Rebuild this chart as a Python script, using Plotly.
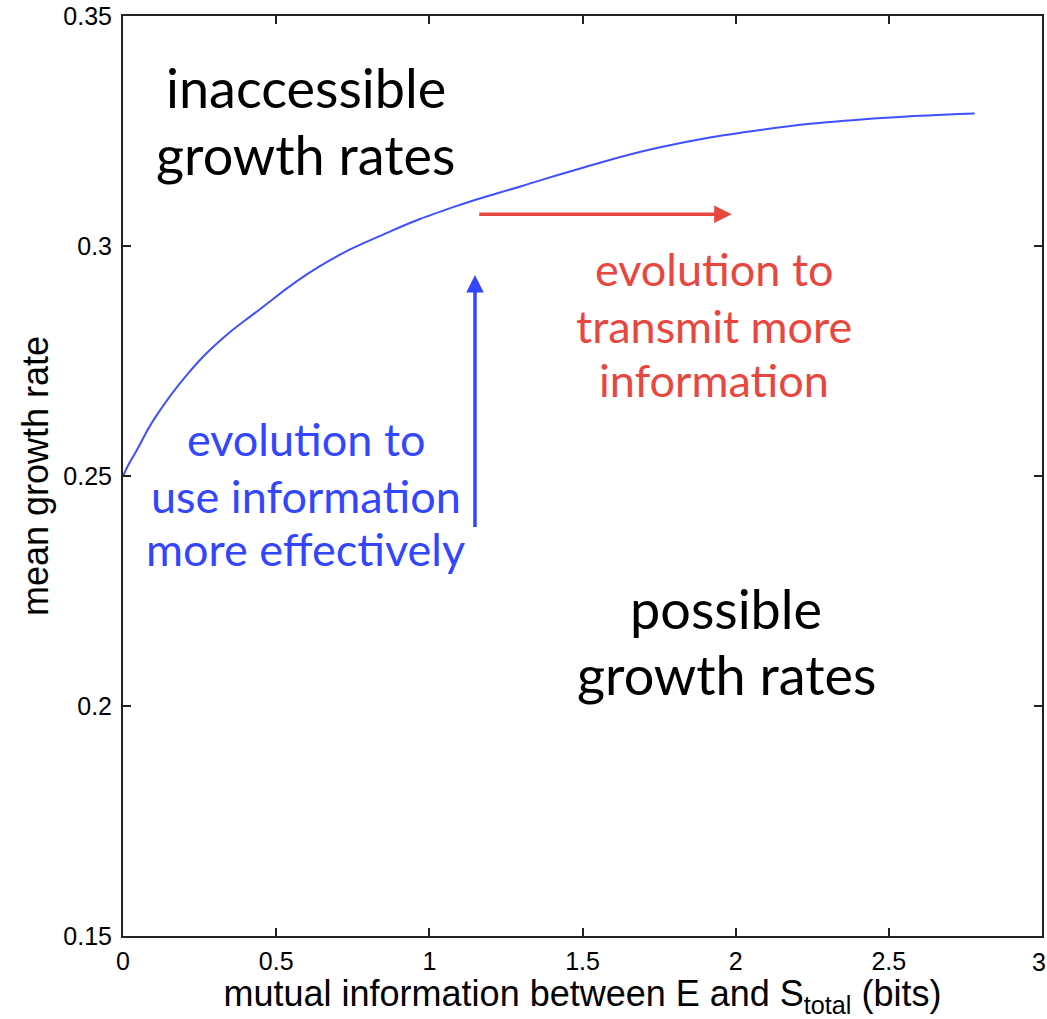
import plotly.graph_objects as go

# Frontier of achievable mean growth rate vs. mutual information
info_bits = [0.0, 0.02, 0.045, 0.10, 0.21, 0.32, 0.43, 0.64, 0.86, 1.08, 1.30, 1.49, 1.75, 2.08, 2.41, 2.78]
growth_rate = [0.250, 0.2527, 0.2556, 0.2622, 0.2721, 0.2796, 0.2854, 0.2955, 0.3028, 0.3085, 0.3130,
               0.3168, 0.3214, 0.3252, 0.3275, 0.3288]

# Axis ticks
x_ticks = [0, 0.5, 1, 1.5, 2, 2.5, 3]
x_tick_labels = ["0", "0.5", "1", "1.5", "2", "2.5", "3"]
y_ticks = [0.15, 0.2, 0.25, 0.3, 0.35]
y_tick_labels = ["0.15", "0.2", "0.25", "0.3", "0.35"]

# Arrows: (x_start, y_start, x_end, y_end)
red_arrow = (1.158, 0.3069, 1.987, 0.3069)
blue_arrow = (1.149, 0.2386, 1.149, 0.2937)

# Region labels: lines, x centre, y centre of each line
region_top_lines = ["inaccessible", "growth rates"]
region_top_x = 0.597
region_top_y = [0.3345, 0.3199]

region_bottom_lines = ["possible", "growth rates"]
region_bottom_x = 1.969
region_bottom_y = [0.2213, 0.2069]

red_lines = ["evolution to", "transmit more", "information"]
red_x = 1.93
red_y = [0.2950, 0.2826, 0.2709]

blue_lines = ["evolution to", "use information", "more effectively"]
blue_x = 0.597
blue_y = [0.2580, 0.2456, 0.2341]

BLUE = "#3346ff"
RED = "#e8473f"
LABEL_FONT = "Lato"
AXIS_FONT = "Liberation Sans"

fig = go.Figure()
fig.add_trace(go.Scatter(
    x=info_bits, y=growth_rate, mode="lines",
    line=dict(color="#3f50ff", width=2, shape="spline", smoothing=1.3),
    hoverinfo="skip", showlegend=False,
))

annotations = []


def add_lines(lines, xc, ys, color, size):
    for txt, yc in zip(lines, ys):
        annotations.append(dict(
            x=xc, y=yc, xref="x", yref="y", text=txt, showarrow=False,
            xanchor="center", yanchor="middle",
            font=dict(family=LABEL_FONT, size=size, color=color),
        ))


add_lines(region_top_lines, region_top_x, region_top_y, "black", 54)
add_lines(region_bottom_lines, region_bottom_x, region_bottom_y, "black", 54)
add_lines(red_lines, red_x, red_y, RED, 45)
add_lines(blue_lines, blue_x, blue_y, BLUE, 45)

for (x0, y0, x1, y1), color in [(red_arrow, RED), (blue_arrow, BLUE)]:
    annotations.append(dict(
        x=x1, y=y1, ax=x0, ay=y0, xref="x", yref="y", axref="x", ayref="y",
        text="", showarrow=True, arrowhead=2, arrowsize=1.0, arrowwidth=3.5,
        arrowcolor=color,
    ))

# The last x tick label sits on the figure's right edge; draw it explicitly
annotations.append(dict(
    x=x_ticks[-1], y=0, xref="x", yref="paper", yshift=-10, xshift=-3,
    text=x_tick_labels[-1], showarrow=False, xanchor="center", yanchor="top",
    font=dict(family=AXIS_FONT, size=25, color="black"),
))

fig.update_layout(
    width=1047, height=1019,
    margin=dict(l=123, r=5, t=16, b=83, autoexpand=False),
    paper_bgcolor="white", plot_bgcolor="white",
    annotations=annotations,
    xaxis=dict(
        range=[0, 3], tickvals=x_ticks[:-1], ticktext=x_tick_labels[:-1],
        ticks="inside", ticklen=8, tickwidth=1.5, tickcolor="#222",
        showline=True, linecolor="#222", linewidth=2, mirror="ticks",
        showgrid=False, zeroline=False,
        tickfont=dict(family=AXIS_FONT, size=25, color="black"),
        ticklabelstandoff=2,
        title=dict(text="mutual information between E and S<sub>total</sub> (bits)",
                   font=dict(family=AXIS_FONT, size=36, color="black"),
                   standoff=0),
    ),
    yaxis=dict(
        range=[0.15, 0.35], tickvals=y_ticks, ticktext=y_tick_labels,
        ticks="inside", ticklen=8, tickwidth=1.5, tickcolor="#222",
        showline=True, linecolor="#222", linewidth=2, mirror="ticks",
        showgrid=False, zeroline=False,
        tickfont=dict(family=AXIS_FONT, size=25, color="black"),
        ticklabelstandoff=4,
        title=dict(text="mean growth rate",
                   font=dict(family=AXIS_FONT, size=36, color="black"),
                   standoff=4),
    ),
)

fig.write_html("out.html")
